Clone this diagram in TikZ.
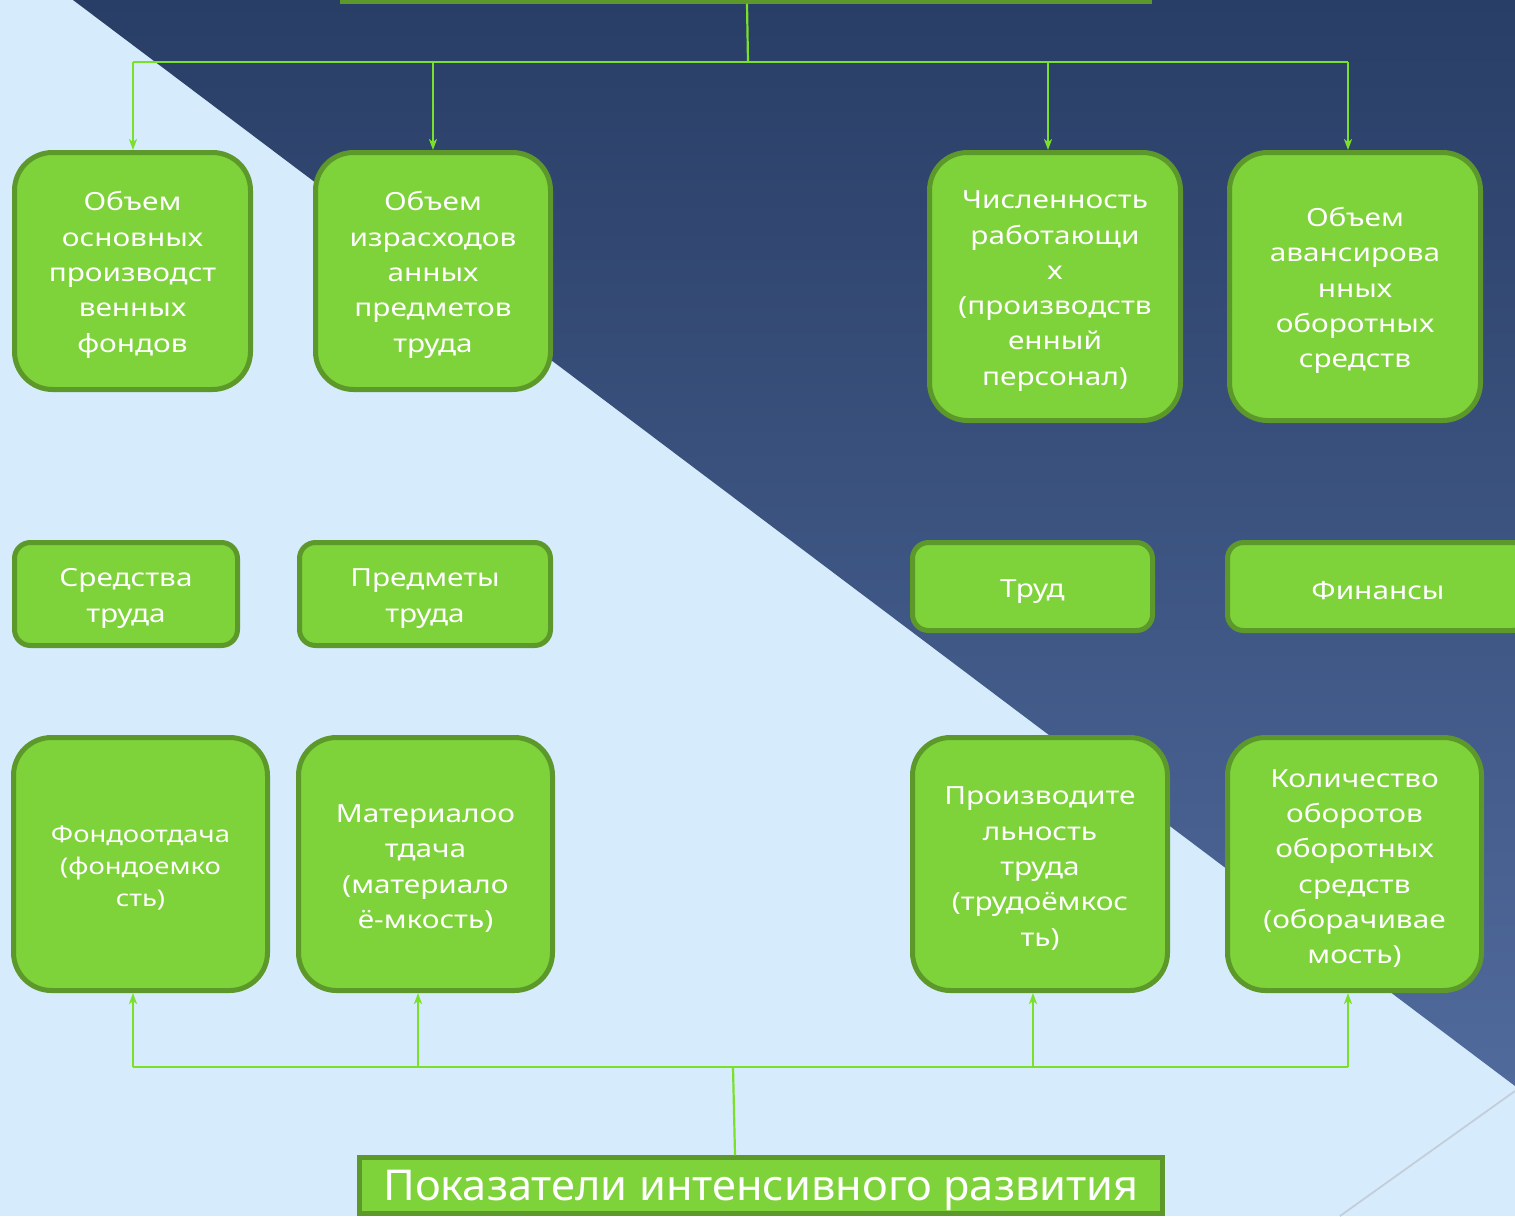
\documentclass[tikz,border=0pt]{standalone}
\usepackage{fontspec}
\setmainfont{Noto Sans}[FakeStretch=1.19]
\newfontfamily\botfont{Noto Sans}[FakeStretch=1.02]
\usetikzlibrary{arrows.meta}
\newcommand\tup{\rule{0pt}{27pt}}
\definecolor{bglight}{RGB}{214,236,252}
\definecolor{dtop}{RGB}{41,62,102}
\definecolor{dbot}{RGB}{80,106,156}
\definecolor{boxfill}{RGB}{126,210,58}
\definecolor{boxline}{RGB}{92,152,42}
\definecolor{connc}{RGB}{122,224,42}
\definecolor{faint}{RGB}{196,206,218}
\tikzset{
  gbox/.style={draw=boxline, fill=boxfill, line width=5pt, rounded corners=38pt,
    inner sep=0pt, align=center, text=white, anchor=center,
    font=\fontsize{25}{35.3}\selectfont},
  sbox/.style={gbox, rounded corners=16pt},
  flatbox/.style={draw=boxline, fill=boxfill, line width=4.5pt, inner sep=0pt,
    align=center, text=white, anchor=center},
  conn/.style={draw=connc, line width=2.2pt},
  arr/.style={conn, -{Stealth[length=11pt,width=8pt,inset=3pt]}}
}
\begin{document}
\begin{tikzpicture}[x=1pt,y=-1pt]
\useasboundingbox (0,0) rectangle (1515,1216);
\fill[bglight] (0,0) rectangle (1515,1216);
\shade[top color=dtop, bottom color=dbot] (73,0) -- (1515,0) -- (1515,1086) -- cycle;
\draw[faint, line width=1.8pt] (1340,1216) -- (1515,1091);

% top box (mostly off-page)
\node[flatbox, minimum width=807pt, minimum height=60pt] (top) at (746,-28.5) {};

% row 1
\node[gbox, minimum width=236pt, minimum height=237pt] (A) at (132.5,271)
  {\tup Объем\\основных\\производст\\венных\\фондов};
\node[gbox, minimum width=235pt, minimum height=237pt] (B) at (433,271)
  {\tup Объем\\израсходов\\анных\\предметов\\труда};
\node[gbox, minimum width=251pt, minimum height=268pt] (C) at (1055,286.5)
  {\tup Численность\\работающи\\х\\(производств\\енный\\персонал)};
\node[gbox, minimum width=251pt, minimum height=268pt] (D) at (1355,286.5)
  {\tup Объем\\авансирова\\нных\\оборотных\\средств};

% row 2
\node[sbox, minimum width=223pt, minimum height=103pt] (E) at (126,594)
  {\tup Средства\\труда};
\node[sbox, minimum width=251pt, minimum height=103pt] (F) at (425,594)
  {\tup Предметы\\труда};
\node[sbox, minimum width=240pt, minimum height=88pt] (G) at (1032.5,586.5)
  {\tup Труд};
\node[sbox, minimum width=301pt, minimum height=88pt] (H) at (1378,586.5)
  {\tup Финансы};

% row 3
\node[gbox, minimum width=254pt, minimum height=253pt,
  font=\fontsize{23}{32}\selectfont] (I) at (140.5,864)
  {\rule{0pt}{25pt}Фондоотдача\\(фондоемко\\сть)};
\node[gbox, minimum width=254pt, minimum height=253pt] (J) at (425.5,864)
  {\tup Материалоо\\тдача\\(материало\\ё-мкость)};
\node[gbox, minimum width=255pt, minimum height=253pt] (K) at (1040,864)
  {\tup Производите\\льность\\труда\\(трудоёмкос\\ть)};
\node[gbox, minimum width=254pt, minimum height=253pt] (L) at (1354.5,864)
  {\tup Количество\\оборотов\\оборотных\\средств\\(оборачивае\\мость)};

% bottom box
\node[flatbox, minimum width=803pt, minimum height=56pt,
  font=\botfont\fontsize{42.5}{50}\selectfont] (bot) at (761,1185.5)
  {\rule{0pt}{40pt}Показатели интенсивного развития};

% top bus
\coordinate (tj) at (748,62);
\coordinate (t1) at (133,62);
\coordinate (t2) at (433,62);
\coordinate (t3) at (1048,62);
\coordinate (t4) at (1348,62);
\draw[conn] (top.south -| 747,0) -- (tj);
\draw[conn] (t1) -- (t4);
\draw[arr] (t1) -- (t1 |- A.north);
\draw[arr] (t2) -- (t2 |- B.north);
\draw[arr] (t3) -- (t3 |- C.north);
\draw[arr] (t4) -- (t4 |- D.north);

% bottom bus
\coordinate (bj) at (733,1067);
\coordinate (b1) at (133,1067);
\coordinate (b2) at (418,1067);
\coordinate (b3) at (1033,1067);
\coordinate (b4) at (1348,1067);
\draw[conn] (bot.north -| 735,0) -- (bj);
\draw[conn] (b1) -- (b4);
\draw[arr] (b1) -- (b1 |- I.south);
\draw[arr] (b2) -- (b2 |- J.south);
\draw[arr] (b3) -- (b3 |- K.south);
\draw[arr] (b4) -- (b4 |- L.south);
\end{tikzpicture}
\end{document}
